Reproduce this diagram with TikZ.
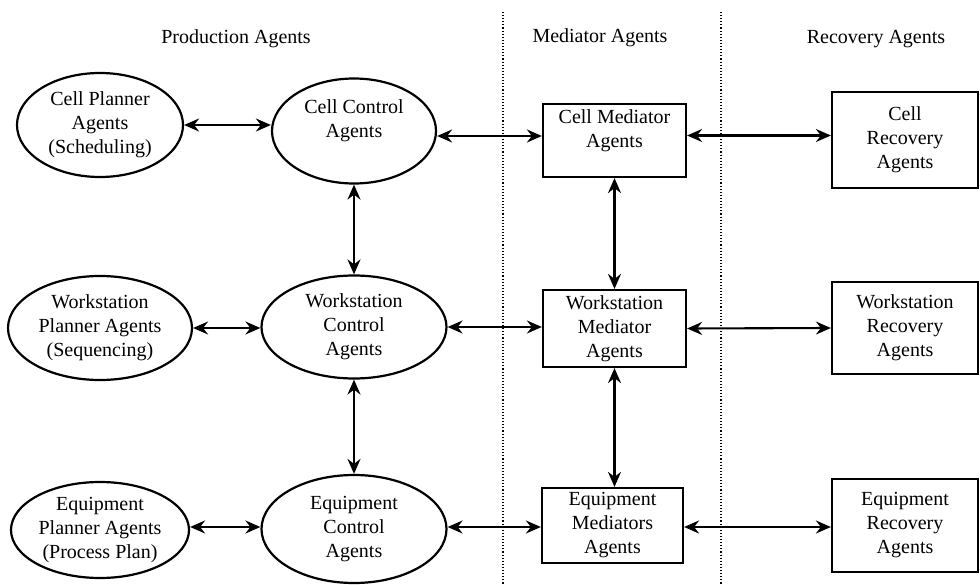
\documentclass[tikz,border=0pt]{standalone}
\usepackage{fontspec}
\setmainfont{Liberation Serif}
\newfontfamily\tnrfont{Liberation Serif}
\usetikzlibrary{shapes.geometric,arrows.meta}
\begin{document}
\begin{tikzpicture}[x=1pt,y=-1pt,
  every node/.style={font=\tnrfont\fontsize{20}{24}\selectfont, align=center},
  agentell/.style={ellipse, draw, line width=2.2pt, inner sep=0pt},
  agentbox/.style={rectangle, draw, line width=2.2pt, inner sep=0pt},
  txt/.style={inner sep=0pt},
  link/.style={line width=2.1pt, {Stealth[length=15pt,width=13pt,inset=5pt]}-{Stealth[length=15pt,width=13pt,inset=5pt]}},
  sep/.style={line width=1.1pt, dotted}
]
\useasboundingbox (0,0) rectangle (980,585);

% headers
\node[txt] (hp) at (236,39) {Production Agents};
\node[txt] (hm) at (600,38) {Mediator Agents};
\node[txt] (hr) at (876,39) {Recovery Agents};

% separators
\coordinate (s1t) at (503,12);
\coordinate (s1b) at (503,585);
\coordinate (s2t) at (721,12);
\coordinate (s2b) at (721,585);
\draw[sep] (s1t) -- (s1b);
\draw[sep] (s2t) -- (s2b);

% production agents
\node[agentell, minimum width=166pt, minimum height=104pt] (cp) at (100,125) {Cell Planner\\Agents\\(Scheduling)};
\node[agentell, minimum width=164pt, minimum height=105pt] (cc) at (354,131) {};
\node[txt] (cct) at (354,121) {Cell Control\\Agents};
\node[agentell, minimum width=184pt, minimum height=104pt] (wp) at (100,328) {Workstation\\Planner Agents\\(Sequencing)};
\node[agentell, minimum width=185pt, minimum height=103pt] (wc) at (354,327) {Workstation\\Control\\Agents};
\node[agentell, minimum width=178pt, minimum height=96pt] (ep) at (100,530) {Equipment\\Planner Agents\\(Process Plan)};
\node[agentell, minimum width=185pt, minimum height=108pt] (ec) at (354,529) {Equipment\\Control\\Agents};

% mediator agents
\node[agentbox, minimum width=143pt, minimum height=73pt] (cm) at (614.5,140.5) {};
\node[txt] (cmt) at (614.5,131) {Cell Mediator\\Agents};
\node[agentbox, minimum width=143pt, minimum height=77pt] (wm) at (614.5,328.5) {Workstation\\Mediator\\Agents};
\node[agentbox, minimum width=141pt, minimum height=75pt] (em) at (612.5,525.5) {Equipment\\Mediators\\Agents};

% recovery agents
\node[agentbox, minimum width=146pt, minimum height=96pt] (cr) at (905,140) {Cell\\Recovery\\Agents};
\node[agentbox, minimum width=146pt, minimum height=92pt] (wr) at (905,328) {Workstation\\Recovery\\Agents};
\node[agentbox, minimum width=146pt, minimum height=93pt] (er) at (905,525.5) {Equipment\\Recovery\\Agents};

% horizontal links
\draw[link] (cp.east) -- (cp.east -| cc.west);
\draw[link] ([yshift=-5pt]cc.east) -- ([yshift=-5pt]cc.east -| cm.west);
\draw[link] ([yshift=5pt]cm.east) -- ([yshift=5pt]cm.east -| cr.west);
\draw[link] (wp.east) -- (wp.east -| wc.west);
\draw[link] (wc.east) -- (wc.east -| wm.west);
\draw[link] (wm.east) -- (wr.west);
\draw[link] ([yshift=3pt]ep.east) -- ([yshift=3pt]ep.east -| ec.west);
\draw[link] ([yshift=2pt]ec.east) -- ([yshift=2pt]ec.east -| em.west);
\draw[link] ([yshift=-1.5pt]em.east) -- ([yshift=-1.5pt]em.east -| er.west);

% vertical links
\draw[link] (cc.south) -- (cc.south |- wc.north);
\draw[link] (cm.south) -- (cm.south |- wm.north);
\draw[link] (wc.south) -- (wc.south |- ec.north);
\draw[link] (wm.south) -- (wm.south |- em.north);
\end{tikzpicture}
\end{document}
